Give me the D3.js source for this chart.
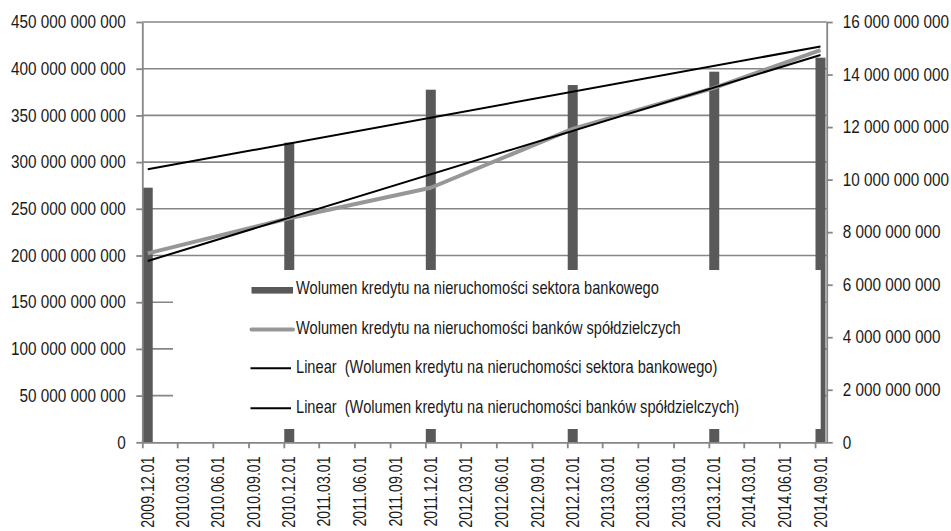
<!DOCTYPE html>
<html>
<head>
<meta charset="utf-8">
<script src="https://cdn.jsdelivr.net/npm/d3@7"></script>
<style>
  html, body { margin: 0; padding: 0; background: #fff; }
  svg { display: block; }
  text { font-family: "Liberation Sans Narrow", "Arial Narrow", "Liberation Sans", Arial, sans-serif; fill: #1a1a1a; }
</style>
</head>
<body>
<svg id="chart" width="951" height="531"></svg>
<script>
// Quarterly axis labels
const tickLabels = [
  "2009.12.01", "2010.03.01", "2010.06.01", "2010.09.01", "2010.12.01",
  "2011.03.01", "2011.06.01", "2011.09.01", "2011.12.01", "2012.03.01",
  "2012.06.01", "2012.09.01", "2012.12.01", "2013.03.01", "2013.06.01",
  "2013.09.01", "2013.12.01", "2014.03.01", "2014.06.01", "2014.09.01"
];
// Observation dates
const pointDates = ["2009.12.01", "2010.12.01", "2011.12.01", "2012.12.01", "2013.12.01", "2014.09.01"];
// Real-estate credit volume, whole banking sector (left axis)
const sectorValues = [272.6e9, 320.8e9, 377.5e9, 382.5e9, 396.8e9, 411.8e9];
// Real-estate credit volume, cooperative banks (right axis)
const coopValues = [7.19e9, 8.53e9, 9.69e9, 11.93e9, 13.49e9, 14.93e9];
// Axis ticks
const leftTicks = [0, 50e9, 100e9, 150e9, 200e9, 250e9, 300e9, 350e9, 400e9, 450e9];
const rightTicks = [0, 2e9, 4e9, 6e9, 8e9, 10e9, 12e9, 14e9, 16e9];
// Legend entries
const legendLabels = [
  "Wolumen kredytu na nieruchomości sektora bankowego",
  "Wolumen kredytu na nieruchomości banków spółdzielczych",
  "Linear  (Wolumen kredytu na nieruchomości sektora bankowego)",
  "Linear  (Wolumen kredytu na nieruchomości banków spółdzielczych)"
];

(function () {
  const parse = d3.timeParse("%Y.%m.%d");
  const fmt = d3.formatLocale({ decimal: ",", thousands: " ", grouping: [3], currency: ["", ""] }).format(",");

  const svg = d3.select("#chart");
  const plotL = 142.3, plotR = 826.7, plotT = 22, plotB = 442.3;
  const gridColor = "#868686";
  const axisFont = 18, axisSquash = 0.85;
  const dateFont = 17.5, dateSquash = 0.815;
  const legendFont = 17.5, legendSquash = 0.836;

  const x = d3.scaleTime()
    .domain([parse("2009.12.01"), parse("2014.10.01")])
    .range([plotL, plotR]);
  const yL = d3.scaleLinear().domain([0, 450e9]).range([plotB, plotT]);
  const yR = d3.scaleLinear().domain([0, 16e9]).range([plotB, plotT]);

  // Each observation sits in the middle of its month slot
  const mid = d => d3.timeDay.offset(parse(d), 14);
  const px = d => x(mid(d));

  // Condensed lettering: squeeze text horizontally around its anchor
  function squash(sel, k) {
    sel.each(function () {
      const t = d3.select(this);
      const x0 = +t.attr("x") || 0;
      t.attr("x", 0).attr("transform", `translate(${x0},0) scale(${k},1)`);
    });
  }

  // Gridlines
  svg.append("g").selectAll("line").data(leftTicks.slice(1)).join("line")
    .attr("x1", plotL).attr("x2", plotR)
    .attr("y1", d => yL(d)).attr("y2", d => yL(d))
    .attr("stroke", gridColor).attr("stroke-width", 1.6);

  // Bars
  const barW = 10;
  svg.append("g").selectAll("rect").data(pointDates).join("rect")
    .attr("x", d => px(d) - barW / 2)
    .attr("width", barW)
    .attr("y", (d, i) => yL(sectorValues[i]))
    .attr("height", (d, i) => plotB - yL(sectorValues[i]))
    .attr("fill", "#595959");

  // Cooperative banks line
  const coopLine = d3.line().x((d, i) => px(pointDates[i])).y(d => yR(d));
  svg.append("path").datum(coopValues)
    .attr("d", coopLine)
    .attr("fill", "none").attr("stroke", "#979797").attr("stroke-width", 4)
    .attr("stroke-linejoin", "round");

  // Linear trends (least squares over time)
  function trend(values, scale, width) {
    const xs = pointDates.map(d => +mid(d));
    const n = xs.length;
    const mx = d3.mean(xs), my = d3.mean(values);
    let sxy = 0, sxx = 0;
    xs.forEach((v, i) => { sxy += (v - mx) * (values[i] - my); sxx += (v - mx) * (v - mx); });
    const slope = sxy / sxx, icpt = my - slope * mx;
    const ends = [xs[0], xs[n - 1]];
    svg.append("line")
      .attr("x1", x(ends[0])).attr("y1", scale(icpt + slope * ends[0]))
      .attr("x2", x(ends[1])).attr("y2", scale(icpt + slope * ends[1]))
      .attr("stroke", "#000").attr("stroke-width", width);
  }
  trend(sectorValues, yL, 2);
  trend(coopValues, yR, 2);

  // Legend panel
  const legX = 173, legY = 270, legW = 820.7 - 173, legH = 159;
  svg.append("rect").attr("x", legX).attr("y", legY).attr("width", legW).attr("height", legH).attr("fill", "#fff");
  const rows = [294, 333.5, 373.3, 413.3];
  const symX1 = 251.5, symX2 = 293;
  const lg = svg.append("g");
  lg.append("rect").attr("x", symX1).attr("y", rows[0] - 7).attr("width", symX2 - symX1).attr("height", 6.6).attr("fill", "#595959");
  lg.append("line").attr("x1", symX1).attr("x2", symX2).attr("y1", rows[1] - 4).attr("y2", rows[1] - 4)
    .attr("stroke", "#979797").attr("stroke-width", 4).attr("stroke-linecap", "round");
  lg.append("line").attr("x1", symX1 - 1).attr("x2", symX2 - 2).attr("y1", rows[2] - 5).attr("y2", rows[2] - 5)
    .attr("stroke", "#000").attr("stroke-width", 2);
  lg.append("line").attr("x1", symX1 - 1).attr("x2", symX2 - 2).attr("y1", rows[3] - 5).attr("y2", rows[3] - 5)
    .attr("stroke", "#000").attr("stroke-width", 2);
  lg.selectAll("text").data(legendLabels).join("text")
    .attr("transform", (d, i) => `translate(296,${rows[i]}) scale(${legendSquash},1)`)
    .attr("font-size", legendFont)
    .style("white-space", "pre")
    .text(d => d);

  // Axes
  const axisStroke = g => g.selectAll("path, line").attr("stroke", gridColor).attr("stroke-width", 1.8);

  const gL = svg.append("g").attr("transform", `translate(${plotL},0)`)
    .call(d3.axisLeft(yL).tickValues(leftTicks).tickSize(6).tickSizeOuter(0).tickPadding(10.6).tickFormat(fmt));
  axisStroke(gL);
  gL.selectAll("text").attr("font-size", axisFont).attr("fill", "#1a1a1a").call(squash, axisSquash);
  gL.attr("font-family", null);

  const gR = svg.append("g").attr("transform", `translate(${plotR},0)`)
    .call(d3.axisRight(yR).tickValues(rightTicks).tickSize(6).tickSizeOuter(0).tickPadding(10).tickFormat(fmt));
  axisStroke(gR);
  gR.selectAll("text").attr("font-size", axisFont).attr("fill", "#1a1a1a").call(squash, axisSquash);
  gR.attr("font-family", null);

  // Bottom axis: tick marks at quarter starts, labels centred in their month
  const gB = svg.append("g").attr("transform", `translate(0,${plotB})`)
    .call(d3.axisBottom(x).tickValues(tickLabels.map(parse)).tickSize(6).tickSizeOuter(0).tickFormat(""));
  axisStroke(gB);
  svg.append("g").selectAll("text").data(tickLabels).join("text")
    .attr("transform", d => `translate(${px(d)},${plotB + 14}) rotate(-90) scale(${dateSquash},1)`)
    .attr("text-anchor", "end")
    .attr("dy", "0.35em")
    .attr("font-size", dateFont)
    .text(d => d);
})();
</script>
</body>
</html>
